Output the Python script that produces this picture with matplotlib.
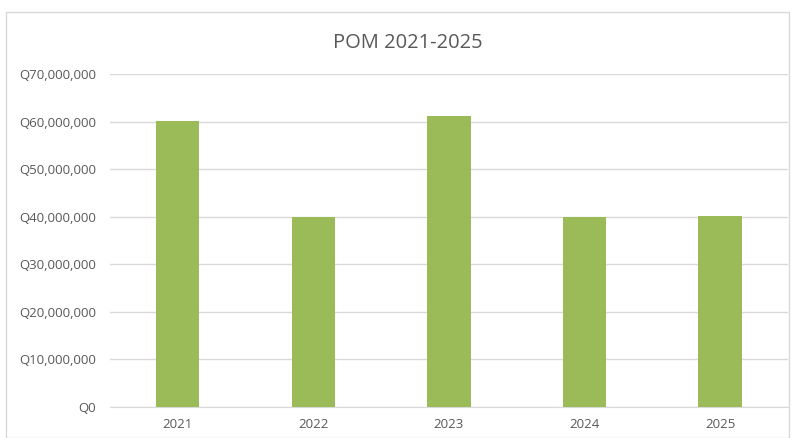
import matplotlib.pyplot as plt
import matplotlib.patches as mpatches
from matplotlib.ticker import FuncFormatter

years = ["2021", "2022", "2023", "2024", "2025"]
pom = [60100000, 39900000, 61100000, 39900000, 40100000]

plt.rcParams['font.family'] = ['Open Sans', 'DejaVu Sans']
grey = "#595959"

fig = plt.figure(figsize=(7.91, 4.38), dpi=100)
ax = fig.add_axes([0.139, 0.071, 0.857, 0.760])

# chart border like excel
fig.patches.append(mpatches.Rectangle((0.008, 0.0), 0.99, 0.972, transform=fig.transFigure,
                                      fill=False, edgecolor="#d9d9d9", linewidth=1))

x = range(len(years))
ax.bar(x, pom, width=0.32, color="#9bbb59", zorder=3)
ax.set_xlim(-0.5, len(years) - 0.5)
ax.set_ylim(0, 70000000)
ax.set_yticks(range(0, 70000001, 10000000))
ax.yaxis.set_major_formatter(FuncFormatter(lambda v, p: "Q{:,.0f}".format(v)))
ax.set_xticks(list(x))
ax.set_xticklabels(years)
ax.grid(axis="y", color="#d9d9d9", linewidth=1, zorder=0)
for s in ["top", "right", "left"]:
    ax.spines[s].set_visible(False)
ax.spines["bottom"].set_color("#d9d9d9")
ax.tick_params(axis="both", length=0, colors=grey, labelsize=9.5, pad=8)
ax.tick_params(axis="y", pad=10)

fig.text(0.516, 0.902, "POM 2021-2025", ha="center", va="center", fontsize=14.5, color=grey)

fig.savefig("out.png", dpi=100)
